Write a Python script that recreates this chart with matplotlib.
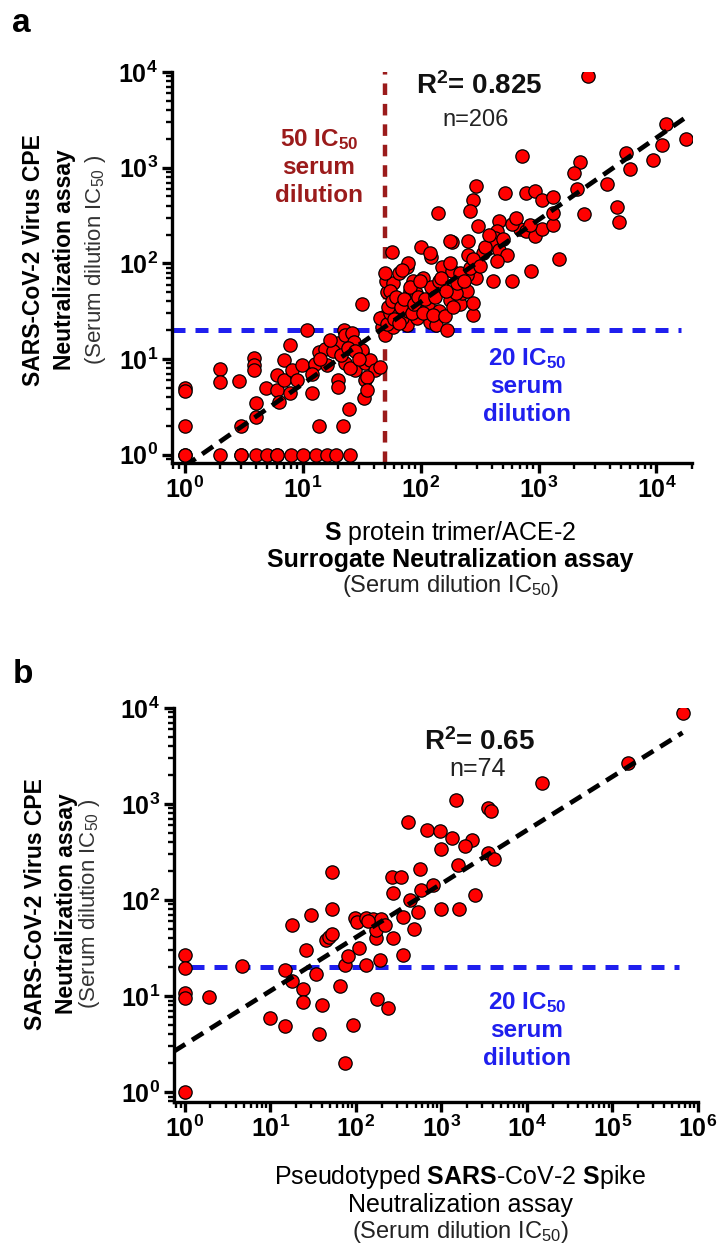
import numpy as np
import matplotlib
matplotlib.use("Agg")
import matplotlib.pyplot as plt
from matplotlib import font_manager
from matplotlib.ticker import LogLocator, NullFormatter

# ---- data panel a (S protein trimer/ACE-2 surrogate vs CPE) ----
a_x = [1, 1, 2, 3, 3, 4, 5, 6, 6, 8, 10, 13, 16, 19, 25,
       1, 3, 13.7, 22,
       1, 1,
       2, 2, 2.9, 3.9, 3.9, 3.9, 4, 4, 4.9, 6, 6, 6.3, 6.9, 7, 7.8, 8.1, 7.8, 9.8, 10.8,
       11.9, 12.6, 13.7, 15.6, 16, 19.8, 20, 20, 22.3, 22.7, 26, 27, 24.5, 22.7, 27.6,
       31.6, 33.5, 33, 31.6, 33.5,
       32, 37, 41, 45, 35, 35,
       14, 18, 21, 24, 28, 17, 12, 9, 25, 30,
       48, 47, 50, 54.6, 58, 62, 76, 70, 78, 94, 119, 136, 169, 98, 115, 144, 176, 214,
       225, 276, 276, 297, 52, 51, 58, 66, 76, 81, 92, 86, 104, 123, 144, 153, 186, 214,
       245, 600, 870,
       730, 293, 515, 790, 925, 1080, 1320, 276, 260, 140, 305, 465, 440, 425, 410, 690,
       790, 925, 1070, 1320, 1320, 335, 465, 535, 440, 186, 250, 250, 176, 123, 100, 57,
       78, 70, 50, 55, 81, 98, 150, 214, 245, 200, 410, 1480, 45,
       2620, 12000, 17900, 11200, 9300, 6000, 5500, 3780, 4660, 4780, 2450, 2230, 2000, 2100,
       119, 176,
       52, 55, 60, 53, 65, 57, 62, 68, 72, 85, 88, 95, 105, 110, 128, 132, 160, 165, 190,
       205, 235, 260, 280, 320, 350, 380, 500, 600, 650, 850]
a_y = [1, 1, 1, 1, 1, 1, 1, 1, 1, 1, 1, 1, 1, 1, 1,
       2, 2, 2, 2,
       5, 4.6,
       7.9, 5.8, 5.9, 10.2, 8.7, 7.7, 3.5, 2.5, 5, 6.8, 4.8, 3.6, 9.8, 6, 14, 7.7, 4.4, 8.7, 20,
       4.4, 8.9, 11.8, 12.7, 8.7, 14.7, 6, 5.1, 20, 17.8, 18.7, 15, 3, 9.1, 7.7,
       11.5, 6, 3.9, 38, 9.1,
       12.4, 9.8, 7.7, 8.2, 6.5, 4.8,
       10, 12, 11, 13, 12, 16, 7, 6, 8, 10,
       27.4, 21.6, 17.8, 25.5, 21.6, 31, 22.6, 27, 32, 26.6, 24.4, 22.6, 20, 34, 36, 32, 41, 38,
       48.5, 28.7, 39, 70, 50, 66, 62, 79, 91, 52, 48.5, 66, 70, 56, 66, 91, 84, 56,
       75, 66, 84,
       1330, 650, 550, 550, 575, 455, 490, 455, 350, 340, 245, 280, 220, 186, 160, 230,
       220, 195, 230, 250, 340, 127, 137, 121, 107, 166, 173, 121, 100, 116, 147, 133,
       100, 85, 79, 52, 56, 66, 71, 79, 52, 48.5, 66, 110, 27,
       9100, 2880, 2000, 1740, 1210, 975, 1410, 680, 390, 270, 325, 1150, 890, 600,
       127, 173,
       23, 30, 26, 35, 24, 40, 45, 35, 42, 30, 38, 44, 30, 42, 29, 45, 28, 52, 35,
       62, 65, 90, 110, 95, 150, 200, 180, 260, 300, 250]

# ---- data panel b (pseudotyped spike vs CPE) ----
b_x = [1, 1, 1, 1, 1, 1.9, 4.7, 9.9, 15, 15, 18, 18, 24, 24, 26, 30, 34.5, 40, 37.5, 45,
       48, 53, 53, 53, 65, 74, 81, 74, 93, 98, 108, 103, 130, 130, 161, 170, 172, 195, 190,
       175, 235, 262, 340, 270, 270, 357, 357, 410, 680, 565, 535, 480, 580, 435, 800, 960,
       1000, 1000,
       6.7e5, 1.5e5, 1.5e4, 1480, 3500, 3800, 1350, 2300, 1880, 3500, 4100, 1580, 2450, 1630,
       140, 220]
b_y = [27, 19.5, 10.7, 9.5, 1, 9.8, 20.4, 5.9, 4.9, 18.6, 55, 14.5, 11.8, 8.7, 30, 70, 17, 8, 4, 38,
       41, 44, 81, 198, 12.7, 21, 26, 2, 5, 65, 32, 59, 65, 21, 63, 40, 49, 63, 24,
       9.3, 7.5, 173, 173, 118, 40, 66, 27, 650, 540, 209, 76, 50, 126, 100, 145, 525,
       337, 81,
       8800, 2650, 1650, 1100, 910, 850, 445, 425, 370, 310, 265, 230, 112, 81,
       60, 55]

# regression lines: y = k * x**m
fit_a = (0.76, 0.858)
fit_b = (3.13, 0.558)

W, H = 718, 1247
fig = plt.figure(figsize=(W / 100, H / 100), dpi=100)

names = {f.name for f in font_manager.fontManager.ttflist}
NARROW = "Liberation Sans Narrow" if "Liberation Sans Narrow" in names else "Liberation Sans"
plt.rcParams["font.family"] = ["Liberation Sans", "DejaVu Sans"]
plt.rcParams["mathtext.default"] = "regular"
plt.rcParams["mathtext.fontset"] = "custom"
plt.rcParams["mathtext.bf"] = NARROW + ":bold"


def fx(x):
    return x / W


def fy(y):
    return 1 - y / H


def style(ax, nx, xlim, ylim):
    ax.set_xscale("log")
    ax.set_yscale("log")
    for s in ["top", "right"]:
        ax.spines[s].set_visible(False)
    for s in ["left", "bottom"]:
        ax.spines[s].set_linewidth(2.4)
    ax.set_xticks(10.0 ** np.arange(nx + 1))
    ax.set_xticklabels([f"$10^{{{k}}}$" for k in range(nx + 1)], fontsize=18, fontweight="bold")
    ax.set_yticks(10.0 ** np.arange(5))
    ax.set_yticklabels([f"$10^{{{k}}}$" for k in range(5)], fontsize=18, fontweight="bold")
    for axis in [ax.xaxis, ax.yaxis]:
        axis.set_minor_locator(LogLocator(base=10, subs=np.arange(2, 10), numticks=30))
        axis.set_minor_formatter(NullFormatter())
    ax.tick_params(which="major", length=7, width=2.4, pad=3)
    ax.tick_params(which="minor", length=4.5, width=1.7)
    ax.set_xlim(*xlim)
    ax.set_ylim(*ylim)


def ylabel(ys, xs):
    fig.text(fx(xs[0]), fy(ys), "SARS-CoV-2 Virus CPE", rotation=90, ha="center", va="center",
             fontsize=16.5, fontweight="bold")
    fig.text(fx(xs[1]), fy(ys), "Neutralization assay", rotation=90, ha="center", va="center",
             fontsize=16.5, fontweight="bold")
    fig.text(fx(xs[2]), fy(ys), "(Serum dilution IC$_{50}$ )", rotation=90, ha="center", va="center",
             fontsize=16, color="#333333")


dash_fit = (0, (2.8, 1.7))
dash_ref = (0, (2.6, 2.0))

# ---------------- panel a ----------------
ax = fig.add_axes([fx(172), fy(463), fx(692) - fx(172), fy(72) - fy(463)])
style(ax, 4, (0.78, 2e4), (0.82, 1e4))
ax.axvline(50, color="#9b1b1b", lw=3.2, ls=dash_ref, zorder=1)
ax.plot([0.78, 1.6e4], [20, 20], color="#1f1fee", lw=3.6, ls=dash_ref, zorder=1)
ax.scatter(a_x, a_y, s=92, facecolor="#ff0000", edgecolor="black", linewidths=0.9, zorder=3)
xx = np.array([1.0, 1.9e4])
ax.plot(xx, fit_a[0] * xx ** fit_a[1], color="black", lw=3.4, ls=dash_fit, zorder=4)

fig.text(fx(21), fy(24), "a", fontsize=24, fontweight="bold", ha="center", va="center")
fig.text(fx(479), fy(86), "R$^{2}$= 0.825", fontsize=20, fontweight="bold", ha="center", va="center",
         color="#111111")
fig.text(fx(476), fy(120), "n=206", fontsize=17, ha="center", va="center", color="#222222")
fig.text(fx(319), fy(167), "50 IC$_{50}$\nserum\ndilution", fontsize=17.5, family=NARROW,
         fontweight="bold", color="#9b1b1b", ha="center", va="center", linespacing=1.25)
fig.text(fx(527), fy(386), "20 IC$_{50}$\nserum\ndilution", fontsize=17.5, family=NARROW,
         fontweight="bold", color="#1f1fee", ha="center", va="center", linespacing=1.25)
ylabel(260, (34, 65, 96))
fig.text(fx(450), fy(533), "$\\mathbf{S}$ protein trimer/ACE-2", fontsize=18, family=NARROW,
         ha="center", va="center")
fig.text(fx(450), fy(560), "Surrogate Neutralization assay", fontsize=18, family=NARROW,
         fontweight="bold", ha="center", va="center")
fig.text(fx(450), fy(586), "(Serum dilution IC$_{50}$)", fontsize=17, family=NARROW,
         ha="center", va="center", color="#222222")

# ---------------- panel b ----------------
ax = fig.add_axes([fx(174), fy(1102), fx(698) - fx(174), fy(708) - fy(1102)])
style(ax, 6, (0.75, 1e6), (0.79, 1e4))
ax.plot([1.2, 6e5], [20, 20], color="#1f1fee", lw=3.6, ls=dash_ref, zorder=1)
ax.scatter(b_x, b_y, s=92, facecolor="#ff0000", edgecolor="black", linewidths=0.9, zorder=3)
xx = np.array([0.75, 6.6e5])
ax.plot(xx, fit_b[0] * xx ** fit_b[1], color="black", lw=3.4, ls=dash_fit, zorder=4)

fig.text(fx(23), fy(675), "b", fontsize=24, fontweight="bold", ha="center", va="center")
fig.text(fx(480), fy(742), "R$^{2}$= 0.65", fontsize=20, fontweight="bold", ha="center", va="center",
         color="#111111")
fig.text(fx(478), fy(769), "n=74", fontsize=18, ha="center", va="center", color="#222222")
fig.text(fx(527), fy(1030), "20 IC$_{50}$\nserum\ndilution", fontsize=17.5, family=NARROW,
         fontweight="bold", color="#1f1fee", ha="center", va="center", linespacing=1.25)
ylabel(904, (36, 66, 90))
fig.text(fx(460), fy(1177), "Pseudotyped $\\mathbf{SARS}$-CoV-2 $\\mathbf{S}$pike", fontsize=18,
         family=NARROW, ha="center", va="center")
fig.text(fx(460), fy(1205), "Neutralization assay", fontsize=18, family=NARROW,
         ha="center", va="center")
fig.text(fx(460), fy(1232), "(Serum dilution IC$_{50}$)", fontsize=17, family=NARROW,
         ha="center", va="center", color="#222222")

fig.savefig("out.png", dpi=100)
